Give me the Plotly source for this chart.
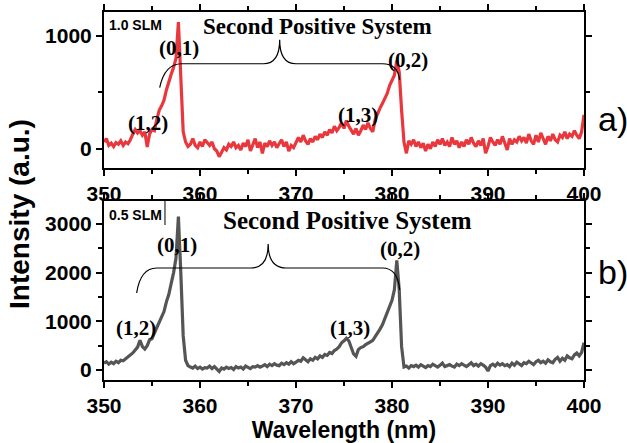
import numpy as np
import plotly.graph_objects as go
from plotly.subplots import make_subplots

# wavelength grid (nm), 0.25 nm sampling
wavelength = np.linspace(350, 400, 201)

# a) 1.0 SLM spectrum (a.u.)
intensity_a = [
    60, 90, 30, 50, 20, 55, 40, 70,
    30, 60, 45, 80, 130, 170, 140, 160,
    120, 150, 15, 130, 170, 160, 260, 340,
    380, 430, 520, 600, 660, 720, 800, 1120,
    600, 150, 60, 20, 40, 90, 30, 10,
    60, 20, 80, 50, 30, 60, 0, -20,
    -70, -30, 10, -10, 40, 20, 60, 10,
    30, -10, 50, 20, 80, -20, 40, 90,
    10, 60, -40, 50, 20, 70, 30, 60,
    10, 40, 80, 20, 60, -20, 30, 10,
    50, 100, 60, 120, 70, 40, 90, 60,
    110, 80, 130, 100, 150, 120, 170, 140,
    200, 160, 190, 230, 180, 250, 200, 170,
    130, 180, 120, 160, 210, 170, 230, 180,
    150, 260, 320, 360, 400, 440, 490, 560,
    600, 650, 780, 680, 340, 60, -40, 70,
    40, 80, 20, 60, 10, 50, -20, 40,
    0, 60, 20, 80, 40, 90, 30, 60,
    20, 100, 40, 70, 10, 60, 20, 80,
    40, 100, 50, 20, 70, 30, 90, -40,
    20, 100, 60, 30, 80, 40, 110, 50,
    -10, 90, 40, 80, 60, 110, 70, 100,
    50, 130, 70, 40, 120, 60, 140, 90,
    40, 110, 70, 130, 80, 60, 120, 100,
    150, 90, 130, 110, 160, 120, 90, 150,
    300,
]

# b) 0.5 SLM spectrum (a.u.)
intensity_b = [
    140, 170, 120, 160, 130, 180, 150, 200,
    190, 230, 260, 300, 350, 410, 470, 610,
    480, 430, 500, 620, 640, 760, 880, 1000,
    1100, 1200, 1400, 1550, 1780, 2000, 2300, 3150,
    2000, 700, 200, 90, 60, 40, 80, 30,
    60, 20, 50, 40, 80, 30, 70, 10,
    -30, 40, 20, 60, 30, 50, 10, 70,
    40, 60, 20, 80, 50, 30, 70, 60,
    90, 60, 80, 110, 70, 120, 90, 130,
    100, 90, 140, 110, 150, 120, 170, 130,
    160, 200, 180, 250, 210, 170, 230, 200,
    260, 230, 290, 260, 320, 300, 360, 340,
    400, 430, 480, 560, 600, 650, 600, 480,
    330, 280, 420, 460, 480, 520, 560, 580,
    610, 680, 760, 840, 930, 1050, 1180, 1300,
    1430, 1650, 2250, 1650, 480, 60, 80, 40,
    90, 70, 100, 60, 110, 80, 50, 90,
    70, 120, 80, 60, 100, 140, 70, 90,
    110, 80, 60, 120, 90, 130, 100, 70,
    110, 150, 90, 120, 80, 130, 100, 60,
    -20, 90, 120, 80, 140, 100, 130, 90,
    110, 70, 140, 100, 160, 120, 90, 150,
    130, 180, 140, 110, 170, 200, 150, 180,
    140, 210, 170, 150, 220, 260, 180, 240,
    200, 290, 250, 230, 310, 350, 290, 360,
    560,
]

x_ticks = [350, 360, 370, 380, 390, 400]
band_labels = ["(1,2)", "(0,1)", "(1,3)", "(0,2)"]

fig = make_subplots(rows=2, cols=1, vertical_spacing=0.0)
fig.add_trace(go.Scatter(x=wavelength, y=intensity_a, mode="lines",
                         line=dict(color="#E8383D", width=3.2), showlegend=False), row=1, col=1)
fig.add_trace(go.Scatter(x=wavelength, y=intensity_b, mode="lines",
                         line=dict(color="#555555", width=3.2), showlegend=False), row=2, col=1)

tickfont = dict(family="Liberation Sans, Arial", size=21, color="black", weight="bold")
axis_common = dict(showline=True, linecolor="black", linewidth=2, mirror="allticks",
                   ticks="outside", ticklen=6, tickwidth=1.5, tickcolor="black",
                   showgrid=False, zeroline=False, tickfont=tickfont, automargin=False)

fig.update_xaxes(range=[350, 400], tickvals=x_ticks,
                 minor=dict(ticks="outside", dtick=5, ticklen=4, tickcolor="black"),
                 **axis_common)
fig.update_layout(
    xaxis=dict(domain=[0, 1]),
    yaxis=dict(domain=[0.5761, 1.0], range=[-170, 1210], tickvals=[0, 1000],
               minor=dict(ticks="outside", dtick=500, ticklen=4, tickcolor="black"), **axis_common),
    xaxis2=dict(domain=[0, 1], title=dict(text="Wavelength (nm)", standoff=10,
                font=dict(family="Liberation Sans, Arial", size=23, color="black", weight="bold"))),
    yaxis2=dict(domain=[0.0, 0.4864], range=[-205, 3470], tickvals=[0, 1000, 2000, 3000],
                minor=dict(ticks="outside", dtick=500, ticklen=4, tickcolor="black"), **axis_common),
)

fig.update_layout(width=627, height=443, margin=dict(l=104, r=43, t=12, b=63),
                  plot_bgcolor="white", paper_bgcolor="white")

serif = "Liberation Serif, Times New Roman"
ann = []
# panel a
ann.append(dict(x=350.35, y=1097, xref="x", yref="y", text="1.0 SLM", showarrow=False, xanchor="left",
                font=dict(family="Liberation Sans", size=14, color="black", weight="bold")))
ann.append(dict(x=372.2, y=1080, xref="x", yref="y", text="Second Positive System", showarrow=False,
                font=dict(family=serif, size=23, color="black", weight="bold")))
for (lx, ly, t) in [(354.6, 230, band_labels[0]), (357.8, 894, band_labels[1]),
                    (376.5, 300, band_labels[2]), (381.7, 788, band_labels[3])]:
    ann.append(dict(x=lx, y=ly, xref="x", yref="y", text=t, showarrow=False,
                    font=dict(family=serif, size=21, color="black", weight="bold")))
# panel b
ann.append(dict(x=350.35, y=3183, xref="x2", yref="y2", text="0.5 SLM", showarrow=False, xanchor="left",
                font=dict(family="Liberation Sans", size=14, color="black", weight="bold")))
ann.append(dict(x=375.4, y=3080, xref="x2", yref="y2", text="Second Positive System", showarrow=False,
                font=dict(family=serif, size=25, color="black", weight="bold")))
for (lx, ly, t) in [(353.3, 862, band_labels[0]), (357.6, 2567, band_labels[1]),
                    (375.6, 862, band_labels[2]), (380.8, 2485, band_labels[3])]:
    ann.append(dict(x=lx, y=ly, xref="x2", yref="y2", text=t, showarrow=False,
                    font=dict(family=serif, size=21, color="black", weight="bold")))
# panel letters
ann.append(dict(x=1.024, y=0.766, xref="paper", yref="paper", text="a)", showarrow=False, xanchor="left",
                font=dict(family="Liberation Sans", size=34, color="black")))
ann.append(dict(x=1.024, y=0.236, xref="paper", yref="paper", text="b)", showarrow=False, xanchor="left",
                font=dict(family="Liberation Sans", size=34, color="black")))
# y title
ann.append(dict(x=-0.176, y=0.45, xref="paper", yref="paper", text="Intensity (a.u.)", showarrow=False,
                xanchor="center", yanchor="middle",
                textangle=-90, font=dict(family="Liberation Sans", size=28, color="black", weight="bold")))
fig.update_layout(annotations=ann)

# curly braces
brace_a = ("M 355.8,540 Q 356.3,752 358.1,752 L 366.6,752 Q 368.3,752 368.3,965 "
           "Q 368.3,752 370.0,752 L 379.0,752 Q 380.6,752 380.8,610")
brace_b = ("M 353.4,1581 Q 353.8,2094 355.5,2094 L 365.3,2094 Q 367.1,2094 367.1,2587 "
           "Q 367.1,2094 369.0,2094 L 379.0,2094 Q 380.6,2094 380.8,1643")
fig.add_shape(type="path", path=brace_a, xref="x", yref="y", line=dict(color="black", width=1.2))
fig.add_shape(type="path", path=brace_b, xref="x2", yref="y2", line=dict(color="black", width=1.2))
fig.add_shape(type="line", x0=356.35, x1=356.35, y0=2977, y1=3470, xref="x2", yref="y2",
              line=dict(color="#555555", width=1.5))

fig.write_html("out.html", config={"displayModeBar": False},
               post_script="document.body.style.margin='0px';")
